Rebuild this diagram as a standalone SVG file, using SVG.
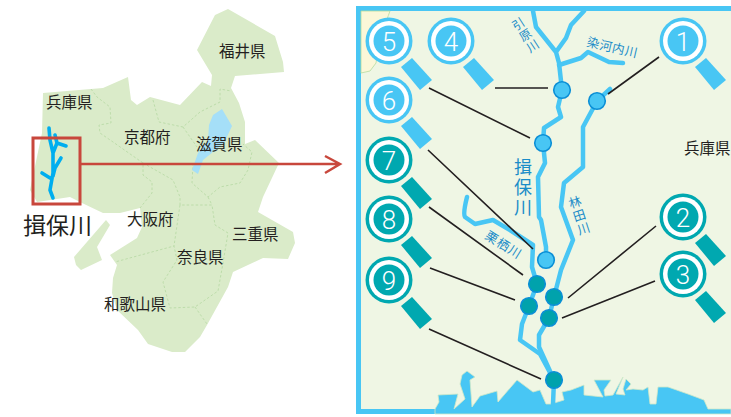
<svg xmlns="http://www.w3.org/2000/svg" width="731" height="417" viewBox="0 0 731 417">
<style>
text{font-family:"Noto Sans CJK JP","Noto Sans",sans-serif}
.lbl{font-size:15.5px;fill:#231f20}
.riv{font-size:12.5px;fill:#1a8cc8}
.land{fill:#daebc9}
.pref{fill:none;stroke:#b5d8a2;stroke-width:.8;stroke-dasharray:2.5 2}
.r{fill:none;stroke:#48c6f4;stroke-width:4.5;stroke-linejoin:round;stroke-linecap:round}
.lead{stroke:#231f20;stroke-width:1.6;fill:none}
.blue{fill:#48c6f4}
.teal{fill:#00a8b0}
.ring{fill:#fff}
.num{font-family:Roboto,"Liberation Sans",sans-serif;font-weight:300;font-size:26px;fill:#fff;text-anchor:middle}
.nb{fill:#48c6f4;stroke:#0b8fd6;stroke-width:1.6}
.nt{fill:#00a2ac;stroke:#0b8fd6;stroke-width:1.6}
</style>
<defs>
<g id="handle"><polygon points="12,26 23,17 43,39 31,49"/></g>
</defs>
<g id="map">
<polygon class="land" points="228,9 275,36 283,62 284,72 235,76 231,88 239,103 245,122 245,144 255,140 279,163 263,197 258,212 293,232 295,243 288,259 263,258 233,272 228,287 207,325 200,337 185,352 172,352 148,344 138,330 117,310 112,293 113,278 117,265 110,255 137,238 142,227 140,208 120,213 103,213 82,203 70,197 37,202 30,190 42,133 43,93 103,88 128,77 131,100 137,105 150,97 180,105 202,82 211,86 212,75 197,50 215,15"/>
<polygon class="land" points="106,220 110,225 97,247 102,260 81,270 76,265 74,257"/>
<path class="pref" d="M91,89 97,97 110,107 111,123 99,125 100,133 113,142 143,163 143,175 152,182 152,193 140,208M153,100 159,122 183,127 200,112 220,102 220,89 231,91M183,127 197,147M193,163 192,183 208,197 220,187 240,183 248,170 252,152 243,144M143,163 173,180 180,197 180,205 212,205 215,225 228,233 223,263 218,291 195,307 170,308 163,282 177,260 174,246 115,262M180,205 174,246M208,197 212,205M195,307 207,324"/>
<polygon fill="#a5dff8" points="222,109 232,126 224,143 213,152 203,160 198,174 192,170 198,153 208,140 209,125 213,115"/>
<path d="M49,128 50,140 53,153 53,173 50,190 53,198M55,135 57,143 53,153M57,143 66,146M61,158 55,168 53,176M42,173 50,178" fill="none" stroke="#00aeef" stroke-width="3.6" stroke-linecap="round" stroke-linejoin="round"/>
<rect x="33" y="138" width="47" height="66" fill="none" stroke="#c8473c" stroke-width="3"/>
<path d="M80,164H340M325,156 340,164 325,173" fill="none" stroke="#c8473c" stroke-width="2.5"/>
<text class="lbl" x="46" y="108">兵庫県</text>
<text class="lbl" x="219" y="56.500">福井県</text>
<text class="lbl" x="124" y="143">京都府</text>
<text class="lbl" x="196" y="149.500">滋賀県</text>
<text class="lbl" x="127" y="224.500">大阪府</text>
<text class="lbl" x="232" y="239.500">三重県</text>
<text class="lbl" x="177" y="262.500">奈良県</text>
<text class="lbl" x="104" y="309.500">和歌山県</text>
<text x="23" y="234" font-size="23" fill="#231f20">揖保川</text>
</g>
<g id="panel">
<rect x="358.5" y="8.5" width="380" height="403" fill="#eff6e4" stroke="#48c6f4" stroke-width="5"/>
<path d="M361,11H390C386,22 379,40 376,63L370,71 361,73Z" fill="#fbf7d8" stroke="#b5dca0" stroke-width=".8"/>
<polygon class="blue" stroke="#cfe9c8" stroke-width=".8" points="435,409 439,402 438,395 458,394 454,409 465,399 460,384 462,375 467,371 475,377 470,380 472,407 480,396 497,391 498,402 517,380 533,392 540,390 543,397 546,404 551,404 564,400 562,392 571,390 584,385 584,395 603,397 594,380 611,380 604,390 605,396 613,395 623,377 616,394 625,395 623,389 626,379 631,384 626,390 633,389 643,390 648,387 650,404 656,404 658,387 668,387 688,394 704,400 708,409 731,409 731,414 435,414"/>
<path class="r" d="M533,11 536,27 544,37 556,52M584,11 571,25 566,38 556,52 559,63 562,90 558,107 561,117 544,128 543,143 545,163 538,177 539,217 541,220 546,247 546,260"/>
<path class="r" d="M467,197C465,205 463,214 465,217L475,224 493,220 510,230 533,245 532,267 537,284 529,306 522,324 520,340 540,354 554,380 553,404"/>
<path class="r" d="M610,89 597,101 583,127 583,167 564,183 561,207 573,240 561,270 554,297 549,318 539,335 539,347 554,380"/>
<path class="r" d="M559,65 581,58 588,52 609,62 623,63"/>
<text class="riv" transform="translate(515,19) rotate(-33)" style="writing-mode:vertical-rl;font-size:12px;letter-spacing:1px">引原川</text>
<text class="riv" transform="translate(586,46) rotate(13)" style="letter-spacing:.5px">染河内川</text>
<text class="riv" transform="translate(573,196) rotate(-18)" style="writing-mode:vertical-rl;letter-spacing:1.5px">林田川</text>
<text class="riv" x="523" y="158" style="writing-mode:vertical-rl;font-size:18px;letter-spacing:2px">揖保川</text>
<text class="riv" transform="translate(484,238) rotate(32)" style="letter-spacing:1px">栗栖川</text>
<text class="lbl" x="684" y="153.500">兵庫県</text>
</g>
<g id="connectors">
<path class="lead" d="M495,88H548M429,88 530,138M428,150 533,249M429,207 523,275M430,268 515,300M429,329 541,379M659,57 608,94M656,226 568,298M655,281 562,318"/>
</g>
<g id="points">
<circle class="nb" cx="562" cy="90" r="8.3"/>
<circle class="nb" cx="597" cy="101" r="8.3"/>
<circle class="nb" cx="543" cy="143" r="8.3"/>
<circle class="nb" cx="546" cy="260" r="8.3"/>
<circle class="nt" cx="537" cy="284" r="8.3"/>
<circle class="nt" cx="554" cy="297" r="8.3"/>
<circle class="nt" cx="549" cy="318" r="8.3"/>
<circle class="nt" cx="529" cy="306" r="8.3"/>
<circle class="nt" cx="554" cy="380" r="8.3"/>
</g>
<g id="badge-1" class="blue" transform="translate(683,41)"><use href="#handle"/><circle r="23.5"/><circle class="ring" r="20"/><circle r="15.5"/><text class="num" y="9.500">1</text></g>
<g id="badge-2" class="teal" transform="translate(683,217)"><use href="#handle"/><circle r="23.5"/><circle class="ring" r="20"/><circle r="15.5"/><text class="num" y="9.500">2</text></g>
<g id="badge-3" class="teal" transform="translate(683,274)"><use href="#handle"/><circle r="23.5"/><circle class="ring" r="20"/><circle r="15.5"/><text class="num" y="9.500">3</text></g>
<g id="badge-4" class="blue" transform="translate(451,41)"><use href="#handle"/><circle r="23.5"/><circle class="ring" r="20"/><circle r="15.5"/><text class="num" y="9.500">4</text></g>
<g id="badge-5" class="blue" transform="translate(389,41)"><use href="#handle"/><circle r="23.5"/><circle class="ring" r="20"/><circle r="15.5"/><text class="num" y="9.500">5</text></g>
<g id="badge-6" class="blue" transform="translate(389,100)"><use href="#handle"/><circle r="23.5"/><circle class="ring" r="20"/><circle r="15.5"/><text class="num" y="9.500">6</text></g>
<g id="badge-7" class="teal" transform="translate(389,160)"><use href="#handle"/><circle r="23.5"/><circle class="ring" r="20"/><circle r="15.5"/><text class="num" y="9.500">7</text></g>
<g id="badge-8" class="teal" transform="translate(389,219)"><use href="#handle"/><circle r="23.5"/><circle class="ring" r="20"/><circle r="15.5"/><text class="num" y="9.500">8</text></g>
<g id="badge-9" class="teal" transform="translate(389,280)"><use href="#handle"/><circle r="23.5"/><circle class="ring" r="20"/><circle r="15.5"/><text class="num" y="9.500">9</text></g>
</svg>
